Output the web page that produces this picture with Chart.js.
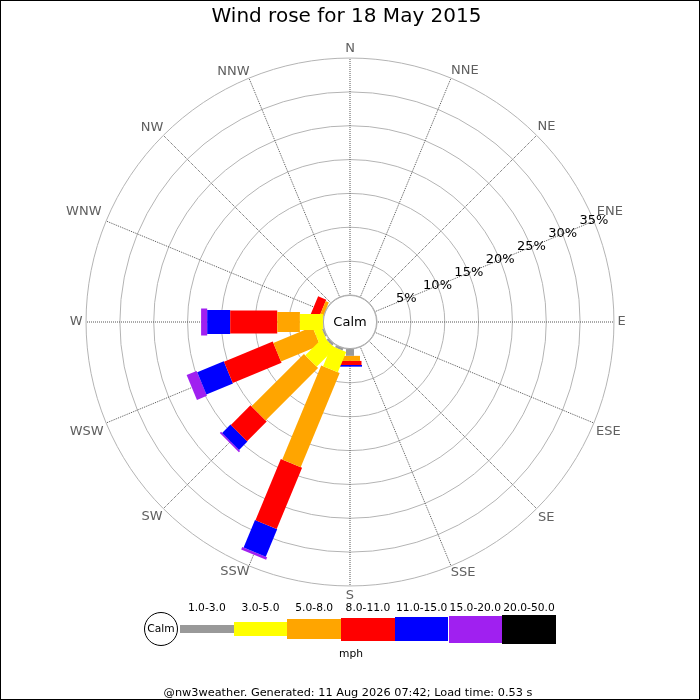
<!DOCTYPE html>
<html>
<head>
<meta charset="utf-8">
<script src="https://cdn.jsdelivr.net/npm/chart.js@4.4.1/dist/chart.umd.min.js"></script>
<style>
  body { margin: 0; background: #fff; font-family: 'DejaVu Sans', sans-serif; }
  #wrap { position: relative; width: 700px; height: 700px; overflow: hidden; }
  #frame { position: absolute; left: 0; top: 0; width: 700px; height: 700px; box-sizing: border-box; border: 1px solid #000; pointer-events: none; }
  canvas { position: absolute; left: 0; top: 0; }
  .lg { position: absolute; }
  .lg-label { position: absolute; font-size: 10.7px; line-height: 12px; text-align: center; width: 70px; color: #000; }
  #calmKey { position: absolute; left: 144px; top: 612px; width: 34px; height: 34px; box-sizing: border-box; border: 1px solid #000; border-radius: 50%; font-size: 10.7px; line-height: 32px; text-align: center; }
  #unit { position: absolute; left: 320px; top: 648px; width: 62px; text-align: center; font-size: 10.7px; line-height: 12px; }
  #footer { position: absolute; left: 0; top: 687px; width: 696px; text-align: center; font-size: 11.3px; line-height: 12px; }
</style>
</head>
<body>
<div id="wrap">
  <canvas id="rose" width="700" height="700"></canvas>
  <div id="legend"></div>
  <div id="calmKey">Calm</div>
  <div id="unit">mph</div>
  <div id="footer">@nw3weather. Generated: 11 Aug 2026 07:42; Load time: 0.53 s</div>
  <div id="frame"></div>
</div>
<script>
// wind directions, clockwise from north
const directions = ['N', 'NNE', 'NE', 'ENE', 'E', 'ESE', 'SE', 'SSE', 'S', 'SSW', 'SW', 'WSW', 'W', 'WNW', 'NW', 'NNW'];
const speedBins = ['1.0-3.0', '3.0-5.0', '5.0-8.0', '8.0-11.0', '11.0-15.0', '15.0-20.0', '20.0-50.0'];
const tickValues = [5, 10, 15, 20, 25, 30, 35];

// % of time per direction, one array per speed bin (mph)
const pct1to3   = [0, 0, 0, 0, 0, 0, 0, 0, 1.0, 0.3, 0.3, 0.2, 0, 0, 0, 0];
const pct3to5   = [0, 0, 0, 0, 0, 0, 0, 0, 0, 3.25, 3.85, 1.2, 3.4, 0, 0, 0];
const pct5to8   = [0, 0, 0, 0, 0, 0, 0, 0, 0.75, 15.05, 10.95, 6.25, 3.35, 0.5, 0, 0];
const pct8to11  = [0, 0, 0, 0, 0, 0, 0, 0, 0.6, 9.8, 4.1, 7.8, 6.95, 1.3, 0, 0];
const pct11to15 = [0, 0, 0, 0, 0, 0, 0, 0, 0.25, 4.4, 1.75, 4.25, 3.4, 0, 0, 0];
const pct15to20 = [0, 0, 0, 0, 0, 0, 0, 0, 0, 0.4, 0.25, 1.6, 0.9, 0, 0, 0];
const pct20to50 = [0, 0, 0, 0, 0, 0, 0, 0, 0, 0, 0, 0, 0, 0, 0, 0];

const series = [pct1to3, pct3to5, pct5to8, pct8to11, pct11to15, pct15to20, pct20to50];
const binColors = ['#999999', '#ffff00', '#ffa500', '#ff0000', '#0000ff', '#a020f0', '#000000'];
const binWidths = [8, 16, 20, 23, 24, 27, 29];
// gap between ring and each direction label, nudged so labels sit like the original
const labelPad = [1.2, 0, 1.3, 3.2, 3.6, 2.4, 1.8, -1, 2.2, -1.9, 0.9, 2.7, 3.5, 5, 0, -1.6];

Chart.defaults.font.family = "'DejaVu Sans', sans-serif";

// each segment is a rotated 'line' point sitting at the middle of its stretch
const running = directions.map(() => 0);
const datasets = series.map((vals, b) => {
  const mids = vals.map((v, i) => {
    const m = v > 0 ? running[i] + v / 2 : null;
    running[i] += v;
    return m;
  });
  return {
    label: speedBins[b],
    data: mids,
    showLine: false,
    fill: false,
    borderWidth: 0,
    pointStyle: 'line',
    pointBorderColor: binColors[b],
    pointBorderWidth: binWidths[b],
    pointRotation: ctx => ctx.dataIndex * 360 / directions.length - 90,
    pointRadius: ctx => {
      const r = ctx.chart.scales.r;
      const v = vals[ctx.dataIndex];
      if (!r || !v) return 0;
      return (r.getDistanceFromCenterForValue(v) - r.getDistanceFromCenterForValue(0)) / 2;
    }
  };
});

// % labels along the ENE spoke and the calm disc in the middle
const roseExtras = {
  id: 'roseExtras',
  afterDatasetsDraw(chart) {
    const r = chart.scales.r, ctx = chart.ctx;
    ctx.save();
    ctx.font = "13px 'DejaVu Sans'";
    ctx.textAlign = 'center';
    ctx.textBaseline = 'middle';
    ctx.fillStyle = '#000';
    const at = directions.indexOf('ENE');
    tickValues.forEach(v => {
      const p = r.getPointPosition(at, r.getDistanceFromCenterForValue(v));
      ctx.fillText(v + '%', p.x, p.y);
    });
    const rad = r.getDistanceFromCenterForValue(0) - 0.5;
    ctx.beginPath();
    ctx.arc(r.xCenter, r.yCenter, rad, 0, Math.PI * 2);
    ctx.fillStyle = '#fff';
    ctx.fill();
    ctx.strokeStyle = '#aaaaaa';
    ctx.lineWidth = 1;
    ctx.stroke();
    ctx.fillStyle = '#000';
    ctx.fillText('Calm', r.xCenter, r.yCenter + 1);
    ctx.restore();
  }
};

new Chart(document.getElementById('rose'), {
  type: 'radar',
  data: { labels: directions, datasets },
  options: {
    responsive: false,
    animation: false,
    events: [],
    layout: { padding: { left: 62.08, right: 69.12, top: 0, bottom: 92.9 } },
    plugins: {
      legend: { display: false },
      tooltip: { enabled: false },
      title: {
        display: true,
        text: 'Wind rose for 18 May 2015',
        color: '#000',
        font: { size: 20, weight: 'normal' },
        padding: { top: 5, bottom: 9.3 }
      }
    },
    scales: {
      r: {
        min: -4,
        max: 35,
        ticks: { display: false, stepSize: 5 },
        grid: { circular: true, color: ctx => ctx.tick && ctx.tick.value < 0 ? 'rgba(0,0,0,0)' : '#b4b4b4', lineWidth: 1 },
        angleLines: { color: '#555', lineWidth: 1, borderDash: [1, 1] },
        pointLabels: { color: '#606060', font: { size: 13 }, padding: ctx => labelPad[ctx.index] }
      }
    }
  },
  plugins: [roseExtras]
});

// speed key under the rose
const keyHeights = [7.7, 14.3, 20.3, 22.7, 24.3, 27, 28.7];
const legend = document.getElementById('legend');
speedBins.forEach((lab, i) => {
  const left = 180 + i * 53.7;
  const box = document.createElement('div');
  box.className = 'lg';
  box.style.cssText = `left:${left}px;top:${629.3 - keyHeights[i] / 2}px;width:53.7px;height:${keyHeights[i]}px;background:${binColors[i]}`;
  legend.appendChild(box);
  const t = document.createElement('div');
  t.className = 'lg-label';
  t.style.left = (left + 53.7 / 2 - 35) + 'px';
  t.style.top = '601.7px';
  t.textContent = lab;
  legend.appendChild(t);
});
</script>
</body>
</html>
